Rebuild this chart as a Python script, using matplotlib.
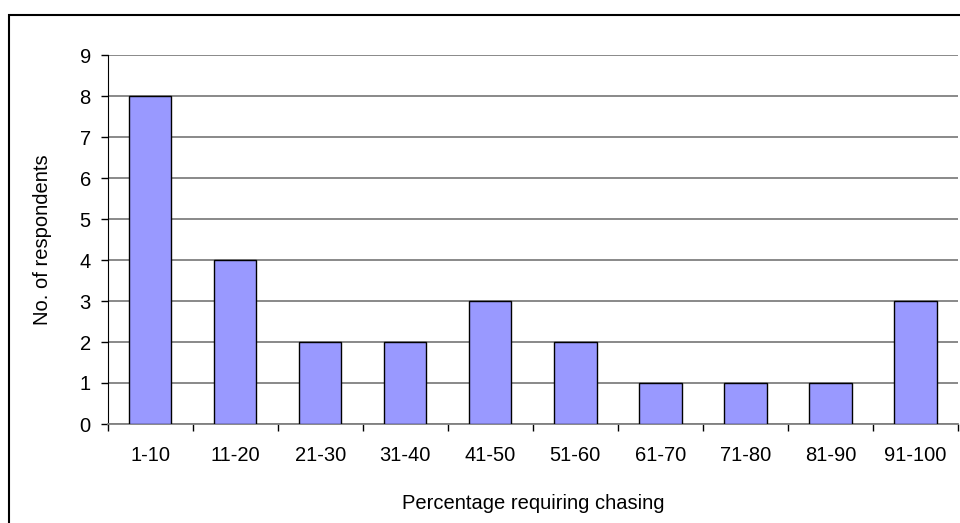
import matplotlib.pyplot as plt
from matplotlib.patches import Rectangle

plt.rcParams['font.family'] = ['Liberation Sans', 'DejaVu Sans']

categories = ['1-10', '11-20', '21-30', '31-40', '41-50', '51-60', '61-70', '71-80', '81-90', '91-100']
respondents = [8, 4, 2, 2, 3, 2, 1, 1, 1, 3]

fig = plt.figure(figsize=(9.6, 5.23), dpi=100)
ax = fig.add_axes([107.5 / 960, 1 - 424 / 523, 850.5 / 960, 369 / 523])

# outer chart border (only left/top visible in the crop)
fig.patches.append(Rectangle((9 / 960, -0.5), 2, 0.5 + (523 - 14.5) / 523,
                             transform=fig.transFigure, fill=False,
                             edgecolor='black', linewidth=1.5))

x = range(len(categories))
ax.bar(x, respondents, width=0.5, color='#9999FF', edgecolor='black', linewidth=1, zorder=3)

ax.set_xlim(-0.5, len(categories) - 0.5)
ax.set_ylim(0, 9)
ax.set_yticks(range(10))
ax.yaxis.grid(True, color='#808080', linewidth=1.3, zorder=0)
ax.set_axisbelow(True)

ax.set_xticks([i - 0.5 for i in range(len(categories) + 1)])
ax.set_xticklabels([])
ax.set_xticks(list(x), minor=True)
ax.set_xticklabels(categories, minor=True)
ax.tick_params(axis='x', which='major', length=5, width=1, color='black')
ax.tick_params(axis='x', which='minor', length=0, pad=16, labelsize=14.5)
ax.tick_params(axis='y', length=5, width=1, pad=7, labelsize=14.5)

for s in ['top', 'right']:
    ax.spines[s].set_visible(False)
ax.spines['left'].set_color('black')
ax.spines['bottom'].set_color('#808080')
ax.spines['bottom'].set_linewidth(1.3)

ax.set_ylabel('No. of respondents', fontsize=14.5, labelpad=20)
ax.set_xlabel('Percentage requiring chasing', fontsize=14.5, labelpad=21)

fig.savefig('out.png', dpi=100)
